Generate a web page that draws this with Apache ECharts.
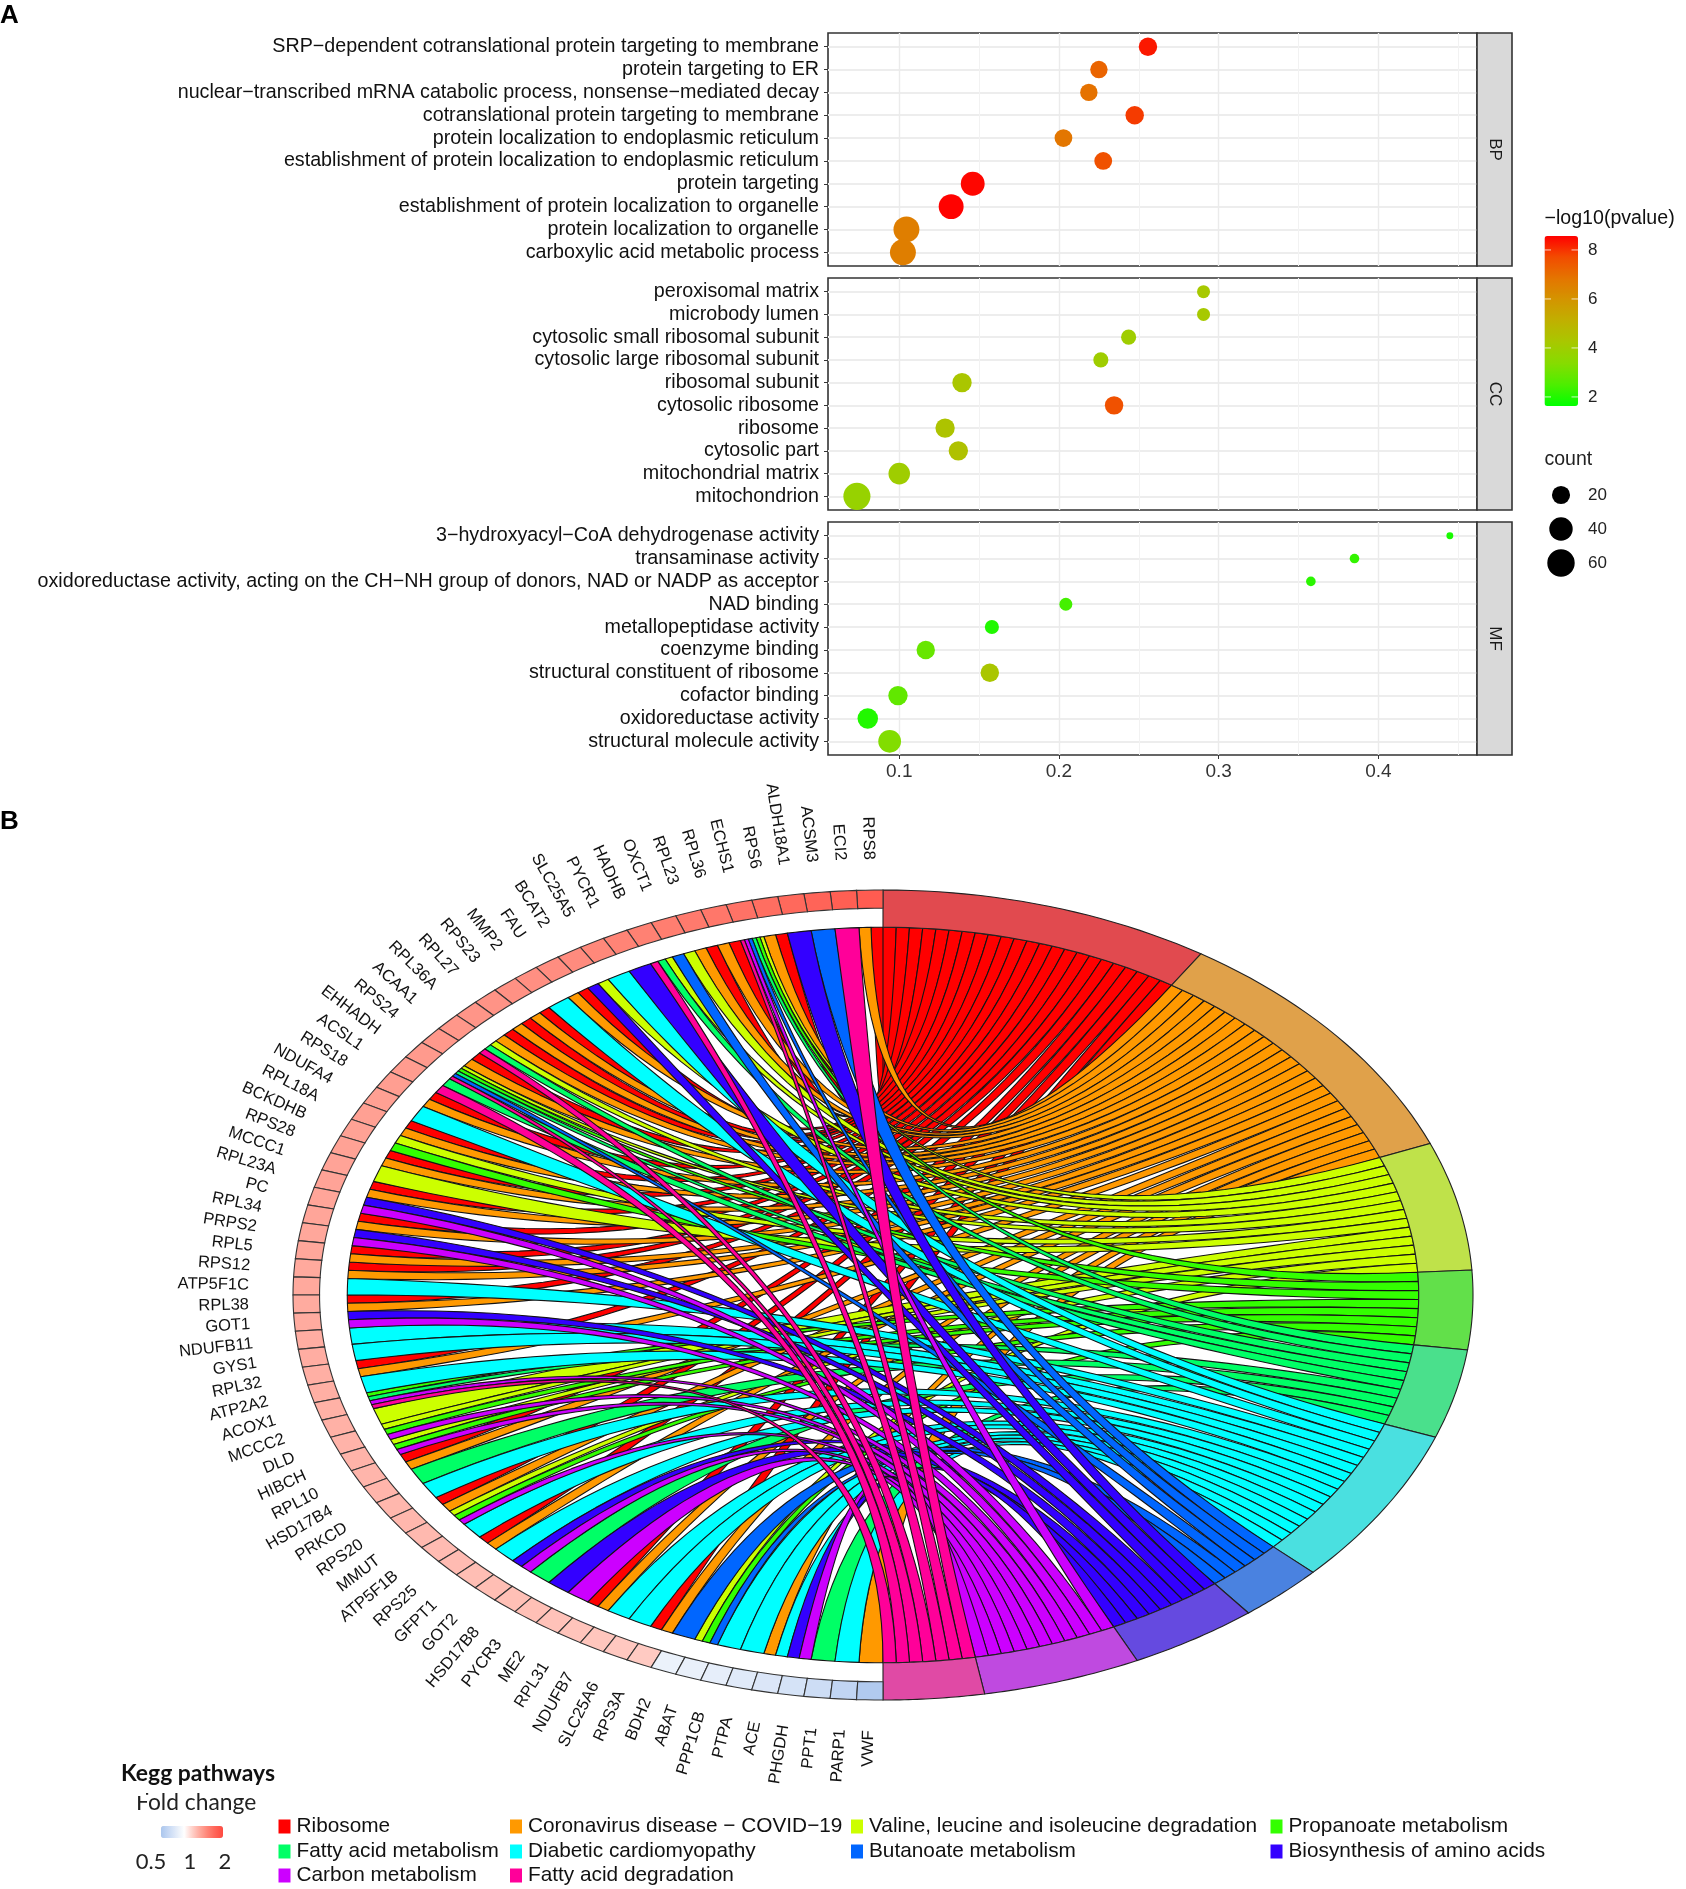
<!DOCTYPE html>
<html><head><meta charset="utf-8">
<style>html,body{margin:0;padding:0;background:#fff}#c{width:1686px;height:1889px}</style>
<script src="https://cdn.jsdelivr.net/npm/echarts@6/dist/echarts.min.js"></script>
</head><body><div id="c"></div>
<script>
// ---------- Panel A data ----------
const bpTerms=["SRP\u2212dependent cotranslational protein targeting to membrane","protein targeting to ER","nuclear\u2212transcribed mRNA catabolic process, nonsense\u2212mediated decay","cotranslational protein targeting to membrane","protein localization to endoplasmic reticulum","establishment of protein localization to endoplasmic reticulum","protein targeting","establishment of protein localization to organelle","protein localization to organelle","carboxylic acid metabolic process"];
const bpRatio=[0.2557,0.225,0.2187,0.2474,0.2028,0.2277,0.146,0.1325,0.1045,0.1023];
const bpLogP=[8.3,7.2,6.9,7.9,6.8,7.6,8.5,8.55,6.6,6.6];
const bpCount=[21,18,18,21,19,19,42,47,52,52];
const ccTerms=["peroxisomal matrix","microbody lumen","cytosolic small ribosomal subunit","cytosolic large ribosomal subunit","ribosomal subunit","cytosolic ribosome","ribosome","cytosolic part","mitochondrial matrix","mitochondrion"];
const ccRatio=[0.2905,0.2905,0.2436,0.2262,0.1393,0.2345,0.1287,0.137,0.1,0.0735];
const ccLogP=[4.2,4.2,4.0,4.0,4.3,7.6,4.4,4.5,4.0,3.8];
const ccCount=[8,8,12,12,24,21,24,24,32,58];
const mfTerms=["3\u2212hydroxyacyl\u2212CoA dehydrogenase activity","transaminase activity","oxidoreductase activity, acting on the CH\u2212NH group of donors, NAD or NADP as acceptor","NAD binding","metallopeptidase activity","coenzyme binding","structural constituent of ribosome","cofactor binding","oxidoreductase activity","structural molecule activity"];
const mfRatio=[0.4447,0.385,0.3577,0.2043,0.158,0.1166,0.1567,0.0992,0.0803,0.094];
const mfLogP=[1.9,2.2,2.1,2.4,2.0,2.9,4.3,2.8,2.0,3.3];
const mfCount=[3,4,4,8,10,21,21,24,28,37];
const xTicks=[0.1,0.2,0.3,0.4];
const xMinor=[0.15,0.25,0.35,0.45];
const legendCounts=[20,40,60];
const legendLogP=[8,6,4,2];
// ---------- Panel B data ----------
const genes=["RPS8","ECI2","ACSM3","ALDH18A1","RPS6","ECHS1","RPL36","RPL23","OXCT1","HADHB","PYCR1","SLC25A5","BCAT2","FAU","MMP2","RPS23","RPL27","RPL36A","ACAA1","RPS24","EHHADH","ACSL1","RPS18","NDUFA4","RPL18A","BCKDHB","RPS28","MCCC1","RPL23A","PC","RPL34","PRPS2","RPL5","RPS12","ATP5F1C","RPL38","GOT1","NDUFB11","GYS1","RPL32","ATP2A2","ACOX1","MCCC2","DLD","HIBCH","RPL10","HSD17B4","PRKCD","RPS20","MMUT","ATP5F1B","RPS25","GFPT1","GOT2","HSD17B8","PYCR3","ME2","RPL31","NDUFB7","SLC25A6","RPS3A","BDH2","ABAT","PPP1CB","PTPA","ACE","PHGDH","PPT1","PARP1","VWF"];
const geneLogFC=[0.86,0.84,0.80,0.77,0.74,0.71,0.68,0.66,0.64,0.62,0.60,0.58,0.56,0.55,0.54,0.53,0.52,0.51,0.50,0.49,0.48,0.47,0.46,0.45,0.45,0.44,0.44,0.43,0.43,0.42,0.42,0.41,0.41,0.40,0.40,0.39,0.39,0.38,0.38,0.37,0.37,0.36,0.36,0.35,0.35,0.34,0.34,0.33,0.33,0.32,0.31,0.31,0.30,0.30,0.29,0.29,0.28,0.27,0.26,0.25,0.24,-0.14,-0.16,-0.18,-0.22,-0.26,-0.30,-0.36,-0.44,-0.56];
const ribosome=["RPS8","RPS6","RPL36","RPL23","FAU","RPS23","RPL27","RPL36A","RPS24","RPS18","RPL18A","RPS28","RPL23A","RPL34","RPL5","RPS12","RPL38","RPL32","RPL10","RPS20","RPS25","RPL31","RPS3A"];
const covid=["RPS8","RPS6","RPL36","RPL23","FAU","RPS23","RPL27","RPL36A","RPS24","RPS18","RPL18A","RPS28","RPL23A","RPL34","RPL5","RPS12","RPL38","RPL32","RPL10","RPS20","RPS25","RPL31","RPS3A","ACE","VWF"];
const valine=["ECHS1","OXCT1","HADHB","BCAT2","ACAA1","EHHADH","BCKDHB","MCCC1","MCCC2","DLD","HIBCH","MMUT","ABAT"];
const propanoate=["ECHS1","EHHADH","BCKDHB","ACOX1","DLD","HIBCH","MMUT","ABAT"];
const fattyMetab=["ECHS1","HADHB","ACAA1","EHHADH","ACSL1","ACOX1","HSD17B4","HSD17B8","PPT1"];
const diabetic=["SLC25A5","MMP2","NDUFA4","ATP5F1C","NDUFB11","GYS1","ATP2A2","PRKCD","ATP5F1B","GFPT1","NDUFB7","SLC25A6","PPP1CB","PTPA","ACE","PARP1"];
const butanoate=["ACSM3","ECHS1","OXCT1","EHHADH","BDH2","ABAT"];
const biosynth=["ALDH18A1","PYCR1","BCAT2","PC","PRPS2","GOT1","GOT2","PYCR3","PHGDH"];
const carbon=["ECHS1","PC","PRPS2","GOT1","ACOX1","DLD","HIBCH","MMUT","GOT2","ME2","PHGDH"];
const fattyDeg=["ECI2","ECHS1","HADHB","ACAA1","EHHADH","ACSL1","ACOX1"];
const pathwayNames=["Ribosome","Coronavirus disease \u2212 COVID\u221219","Valine, leucine and isoleucine degradation","Propanoate metabolism","Fatty acid metabolism","Diabetic cardiomyopathy","Butanoate metabolism","Biosynthesis of amino acids","Carbon metabolism","Fatty acid degradation"];
const pathwayGenes=[ribosome,covid,valine,propanoate,fattyMetab,diabetic,butanoate,biosynth,carbon,fattyDeg];
const ribbonColors=["#FF0000","#FF9900","#CCFF00","#33FF00","#00FF66","#00FFFF","#0066FF","#3300FF","#CC00FF","#FF0099"];
const ringColors=["#E14A4F","#E0A14A","#BFE24A","#62E04A","#4AE08C","#4AE0E0","#4A82E0","#654AE0","#BF4AE0","#E04AA5"];

// ---------- layout ----------
const FONT='"Liberation Sans",Arial,sans-serif';
const panels=[{terms:bpTerms,x:bpRatio,p:bpLogP,c:bpCount,top:33,h:233,tag:'BP'},{terms:ccTerms,x:ccRatio,p:ccLogP,c:ccCount,top:278,h:232,tag:'CC'},{terms:mfTerms,x:mfRatio,p:mfLogP,c:mfCount,top:522,h:233,tag:'MF'}];
const G={left:828,width:649,strip:35};
const CB={x:1544.5,w:33.5,top:236,bottom:406,min:1.63,max:8.57};
const chord={cx:883,cy:1295,rx:590,ry:405,rib:0.908,geneIn:0.955};
const sizeOf=c=>3.45*(2+6*Math.sqrt(Math.max(0,c-3)/58));
const P=(a,r)=>[Math.sin(a)*r,Math.cos(a)*r];
const total=pathwayGenes.reduce((s,l)=>s+l.length,0);
const unit=Math.PI/total, cell=Math.PI/genes.length;
const starts=[];let acc=0;pathwayGenes.forEach(l=>{starts.push(acc);acc+=l.length;});
const geneTerms=genes.map(g=>pathwayGenes.map((l,i)=>l.includes(g)?i:-1).filter(i=>i>=0));

function arcPts(a0,a1,r,n){const o=[];for(let i=0;i<=n;i++)o.push(P(a0+(a1-a0)*i/n,r));return o;}
function bez(p0,p2,n){const o=[];for(let i=1;i<n;i++){const t=i/n,k=(1-t)*(1-t),m=t*t;o.push([k*p0[0]+m*p2[0],k*p0[1]+m*p2[1]]);}return o;}

function ribbonSeries(pi){
  const list=pathwayGenes[pi];
  return {type:'custom',name:pathwayNames[pi],coordinateSystem:'cartesian2d',xAxisIndex:3,yAxisIndex:3,silent:true,animation:false,clip:false,
    itemStyle:{color:ribbonColors[pi]},encode:{x:0,y:1},
    data:list.map((g,j)=>[genes.indexOf(g),j]),
    renderItem(params,api){
      const g=api.value(0),slot=api.value(1);
      const ts=geneTerms[g],m=ts.length,k=ts.indexOf(pi);
      const lo=-(g*cell+k*cell/m),hi=lo-cell/m; // clockwise-from-top angles
      const t0=(starts[pi]+slot)*unit,t1=t0+unit,r=chord.rib;
      let pts=arcPts(hi,lo,r,3);
      pts=pts.concat(bez(P(lo,r),P(t0,r),36),arcPts(t0,t1,r,3),bez(P(t1,r),P(hi,r),36));
      return {type:'polygon',shape:{points:pts.map(q=>api.coord(q))},style:{fill:ribbonColors[pi],stroke:'#141414',lineWidth:1.1,lineJoin:'round'}};
    }};
}
const termRing={type:'custom',name:'terms',coordinateSystem:'cartesian2d',xAxisIndex:3,yAxisIndex:3,silent:true,animation:false,clip:false,encode:{x:0,y:1},
  data:pathwayNames.map((n,i)=>[i,pathwayGenes[i].length]),
  renderItem(params,api){
    const i=api.value(0),n=api.value(1),a0=starts[i]*unit,a1=(starts[i]+n)*unit;
    const pts=arcPts(a0,a1,1,24).concat(arcPts(a1,a0,chord.rib,24));
    return {type:'polygon',shape:{points:pts.map(q=>api.coord(q))},style:{fill:ringColors[i],stroke:'#222',lineWidth:1.1}};
  }};
const geneRing={type:'custom',name:'genes',coordinateSystem:'cartesian2d',xAxisIndex:3,yAxisIndex:3,silent:true,animation:false,clip:false,encode:{x:0,y:1},
  data:genes.map((g,i)=>[i,geneLogFC[i]]),
  renderItem(params,api){
    const i=api.value(0),a0=-i*cell,a1=-(i+1)*cell,mid=(a0+a1)/2;
    const pts=arcPts(a0,a1,1,3).concat(arcPts(a1,a0,chord.geneIn,3));
    const lp=api.coord(P(mid,1.075));
    const phi=-mid; // counter-clockwise from top
    const rot=Math.atan2(-Math.cos(phi),Math.sin(phi));
    return {type:'group',children:[
      {type:'polygon',shape:{points:pts.map(q=>api.coord(q))},style:{fill:api.visual('color'),stroke:'#333',lineWidth:1.1}},
      {type:'text',x:lp[0],y:lp[1],rotation:rot,style:{text:genes[i],align:'right',verticalAlign:'middle',fill:'#111',font:'16.5px '+FONT}}
    ]};
  }};

// ---------- option ----------
const grids=panels.map(p=>({left:G.left,width:G.width,top:p.top,height:p.h,show:true,borderColor:'#333',borderWidth:1.6,backgroundColor:'#fff'}));
grids.push({left:chord.cx-chord.rx,width:2*chord.rx,top:chord.cy-chord.ry,height:2*chord.ry,show:false});
const xAxes=panels.map((p,i)=>({type:'value',gridIndex:i,min:0.0554,max:0.4617,position:'bottom',
  axisLine:{show:false,onZero:false},
  axisTick:{show:i===2,length:4,lineStyle:{color:'#333'},customValues:xTicks},
  axisLabel:{show:i===2,customValues:xTicks,formatter:v=>String(v),fontFamily:FONT,fontSize:19,color:'#333',margin:7},
  splitLine:{show:true,lineStyle:{color:'#EBEBEB',width:1.4}}}));
xAxes.push({type:'value',gridIndex:3,min:-1,max:1,show:false});
const rowTicks=[0,1,2,3,4,5,6,7,8,9];
const yAxes=panels.map((p,i)=>({type:'value',gridIndex:i,inverse:true,min:-0.6,max:9.6,
  axisLine:{show:false,onZero:false},
  axisTick:{show:true,length:4,lineStyle:{color:'#333'},customValues:rowTicks},
  axisLabel:{show:true,customValues:rowTicks,formatter:v=>p.terms[v],fontFamily:FONT,fontSize:19.7,color:'#111',margin:9,padding:[3,0,0,0]},
  splitLine:{show:true,lineStyle:{color:'#EDEDED',width:2}}}));
yAxes.push({type:'value',gridIndex:3,min:-1,max:1,show:false});

const series=panels.map((p,i)=>({type:'scatter',xAxisIndex:i,yAxisIndex:i,animation:false,silent:true,
  data:p.x.map((x,k)=>[x,k,p.p[k],p.c[k]]),
  symbolSize:v=>sizeOf(v[3]),itemStyle:{opacity:1},
  markLine:{z:1,silent:true,symbol:'none',animation:false,label:{show:false},lineStyle:{color:'#F2F2F2',width:1,type:'solid'},data:xMinor.map(v=>({xAxis:v}))}}));
pathwayNames.forEach((n,i)=>series.push(ribbonSeries(i)));
series.push(termRing);
const geneSeriesIndex=series.length;
series.push(geneRing);

const graphic=[];
const T=(text,x,y,o={})=>graphic.push({type:'text',x,y,rotation:o.rot||0,z:50,style:{text,fill:o.fill||'#111',font:(o.weight||'normal')+' '+(o.size||18)+'px '+(o.fam||FONT),align:o.align||'left',verticalAlign:'middle'}});
T('A',0,16,{size:26,weight:'bold',fill:'#000'});
T('B',0,822,{size:26,weight:'bold',fill:'#000'});
panels.forEach(p=>{
  graphic.push({type:'rect',z:5,shape:{x:G.left+G.width,y:p.top,width:G.strip,height:p.h},style:{fill:'#D9D9D9',stroke:'#333',lineWidth:1.6}});
  T(p.tag,G.left+G.width+G.strip/2,p.top+p.h/2,{rot:-Math.PI/2,align:'center',size:17,fill:'#1a1a1a'});
});
// colour bar ticks and labels
T('\u2212log10(pvalue)',CB.x,219,{size:19.6,fill:'#111'});
const cbY=v=>CB.bottom-(v-CB.min)/(CB.max-CB.min)*(CB.bottom-CB.top);
legendLogP.forEach(v=>{const y=cbY(v);
  graphic.push({type:'line',z:50,shape:{x1:CB.x,y1:y,x2:CB.x+6.5,y2:y},style:{stroke:'rgba(255,255,255,.75)',lineWidth:1}});
  graphic.push({type:'line',z:50,shape:{x1:CB.x+CB.w-6.5,y1:y,x2:CB.x+CB.w,y2:y},style:{stroke:'rgba(255,255,255,.75)',lineWidth:1}});
  T(String(v),1588,y,{size:17,fill:'#222'});
});
T('count',CB.x,460,{size:19.5,fill:'#222'});
legendCounts.forEach((c,i)=>{const y=[495,529,563][i];
  graphic.push({type:'circle',z:50,shape:{cx:1561,cy:y,r:sizeOf(c)/2},style:{fill:'#000'}});
  T(String(c),1588,y,{size:17,fill:'#222'});
});
// Panel B legend captions
T('Kegg pathways',121,1774,{size:22.9,weight:'bold',fam:'Lato,sans-serif',fill:'#111'});
T('Fold change',136,1803,{size:22.8,fam:'Lato,sans-serif',fill:'#222'});
graphic.push({type:'rect',z:60,shape:{x:130,y:1789,width:16,height:7},style:{fill:'#fff'}});
T('0.5',151,1862,{size:22,fam:'Lato,sans-serif',align:'center',fill:'#222'});
T('1',190,1862,{size:22,fam:'Lato,sans-serif',align:'center',fill:'#222'});
T('2',225,1862,{size:22,fam:'Lato,sans-serif',align:'center',fill:'#222'});

// one legend component per entry so the four columns and three rows sit exactly
const legendLefts=[278.5,510,851,1270.5];
const legendTops=[1816,1841,1865];
const legend=pathwayNames.map((name,i)=>{
  const col=[0,1,2,3,0,1,2,3,0,1][i],row=[0,0,0,0,1,1,1,1,2,2][i];
  return {orient:'vertical',left:legendLefts[col],top:legendTops[row],itemWidth:12,itemHeight:14,icon:'rect',selectedMode:false,padding:0,
    data:[name],textStyle:{fontFamily:FONT,fontSize:20.8,lineHeight:14,color:'#111',padding:[0,0,0,1]},itemStyle:{borderWidth:0}};
});

const chart=echarts.init(document.getElementById('c'),null,{renderer:'canvas'});
chart.setOption({
  backgroundColor:'#fff',animation:false,grid:grids,xAxis:xAxes,yAxis:yAxes,series,legend,graphic,
  visualMap:[
    {type:'continuous',seriesIndex:[0,1,2],dimension:2,min:CB.min,max:CB.max,show:true,left:CB.x,top:CB.top,itemWidth:CB.w,itemHeight:CB.bottom-CB.top,padding:0,text:null,showLabel:false,calculable:false,realtime:false,hoverLink:false,
      inRange:{color:['#00FF00','#4DEE00','#86DC00','#A8C800','#C0B000','#D39500','#E47500','#F24C00','#FF0000']}},
    {type:'continuous',seriesIndex:[geneSeriesIndex],dimension:1,min:-0.6,max:1,show:true,orient:'horizontal',left:161,top:1826,itemWidth:12,itemHeight:62,padding:0,text:null,showLabel:false,calculable:false,hoverLink:false,
      inRange:{color:['#ABC6EE','#C7D9F4','#E3ECF9','#FFFFFF','#FFD2CB','#FFA99D','#FF8476','#FF6458','#FF4A40']}}
  ]
});
</script></body></html>
